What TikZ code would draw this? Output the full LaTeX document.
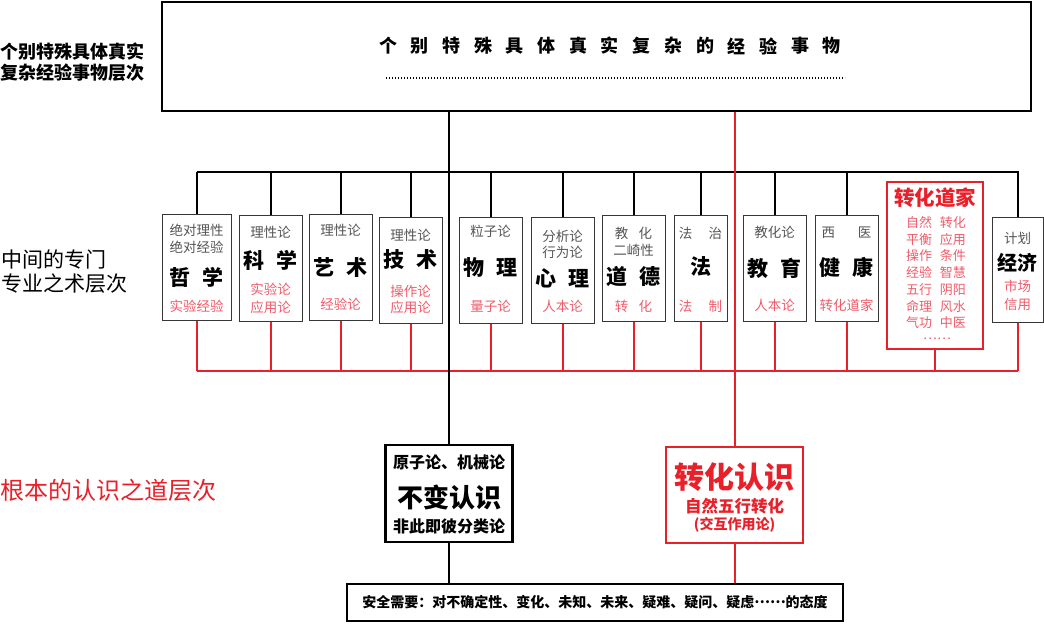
\documentclass[tikz,border=0pt]{standalone}
\usepackage{fontspec}
\setmainfont{Noto Sans CJK SC}
\usepackage{xcolor}
\definecolor{lred}{RGB}{232,32,42}
\definecolor{pinkt}{RGB}{238,92,106}
\definecolor{tgray}{RGB}{85,85,85}
\definecolor{bgray}{RGB}{55,55,55}
\newcommand*{\Gap}{\hspace{0.55em}}

\begin{document}
\begin{tikzpicture}[x=1pt, y=-1pt,
    box/.style={draw=bgray, line width=1pt, inner sep=0pt},
    heavybox/.style={draw, line width=2.8pt, inner sep=0pt},
    blk/.style={line width=2pt},
    rl/.style={draw=lred, line width=2pt},
    sm/.style={font=\fontsize{13.5}{14}\selectfont, text=tgray, inner sep=0pt},
    big/.style={font=\fontsize{21}{22}\selectfont\bfseries, inner sep=0pt},
    lo/.style={font=\fontsize{13.5}{14}\selectfont, text=pinkt, inner sep=0pt}]
    \useasboundingbox (0,0) rectangle (1044,641);

    % levels
    \node[anchor=west, align=left, inner sep=0pt, font=\fontsize{18}{21}\selectfont\bfseries] (lv1) at (0,62.5) {个别特殊具体真实\\复杂经验事物层次};
    \node[anchor=west, align=left, inner sep=0pt, font=\fontsize{21}{24}\selectfont] (lv2) at (1,272) {中间的专门\\专业之术层次};
    \node[anchor=west, inner sep=0pt, font=\fontsize{24}{24}\selectfont, text=lred] (lv3) at (0,490) {根本的认识之道层次};

    % top
    \node[draw, line width=1.6pt, minimum width=869pt, minimum height=109pt] (top) at (596.5,56.5) {};
    \foreach \c [count=\i from 0] in {个,别,特,殊,具,体,真,实,复,杂,的,经,验,事,物}
        \node[inner sep=0pt, font=\fontsize{18}{18}\selectfont\bfseries] (t\i) at ({388+31.7*\i},46) {\c};
    \draw[line width=1.3pt, dash pattern=on 1.2pt off 1.8pt] (386,78) -- (845,78);

    % middle boxes
    \node[box, minimum width=69pt, minimum height=106pt] (zx) at (196.5,267) {};
    \node[sm] (zx1) at (196.5,230) {绝对理性};
    \node[sm] (zx2) at (196.5,247) {绝对经验};
    \node[big] (zx3) at (196.5,277) {哲\Gap{}学};
    \node[lo] (zx4) at (196.5,306) {实验经验};

    \node[box, minimum width=63pt, minimum height=106pt] (kx) at (270.5,268) {};
    \node[sm] (kx1) at (270.5,232) {理性论};
    \node[big] (kx2) at (270.5,260) {科\Gap{}学};
    \node[lo] (kx3) at (270.5,289) {实验论};
    \node[lo] (kx4) at (270.5,307) {应用论};

    \node[box, minimum width=63pt, minimum height=106pt] (ys) at (340.5,267) {};
    \node[sm] (ys1) at (340.5,230) {理性论};
    \node[big] (ys2) at (340.5,268) {艺\Gap{}术};
    \node[lo] (ys3) at (340.5,304) {经验论};

    \node[box, minimum width=63pt, minimum height=106pt] (js) at (410.5,270) {};
    \node[sm] (js1) at (410.5,235) {理性论};
    \node[big] (js2) at (410.5,260) {技\Gap{}术};
    \node[lo] (js3) at (410.5,291) {操作论};
    \node[lo] (js4) at (410.5,307) {应用论};

    \node[box, minimum width=63pt, minimum height=106pt] (wl) at (490.5,270) {};
    \node[sm] (wl1) at (490.5,231) {粒子论};
    \node[big] (wl2) at (490.5,268) {物\Gap{}理};
    \node[lo] (wl3) at (490.5,306) {量子论};

    \node[box, minimum width=63pt, minimum height=106pt] (xl) at (562.5,270) {};
    \node[sm] (xl1) at (562.5,236) {分析论};
    \node[sm] (xl2) at (562.5,252) {行为论};
    \node[big] (xl3) at (562.5,278) {心\Gap{}理};
    \node[lo] (xl4) at (562.5,306) {人本论};

    \node[box, minimum width=63pt, minimum height=106pt] (dd) at (633.5,268) {};
    \node[sm] (dd1) at (633.5,233) {教\hspace{0.75em}化};
    \node[sm] (dd2) at (633.5,250) {二崎性};
    \node[big] (dd3) at (633.5,277) {道\Gap{}德};
    \node[lo] (dd4) at (633.5,306) {转\hspace{0.75em}化};

    \node[box, minimum width=53pt, minimum height=106pt] (fa) at (700.5,268) {};
    \node[sm] (fa1) at (700.5,233) {法\hspace{1.2em}治};
    \node[big] (fa2) at (700.5,267) {法};
    \node[lo] (fa3) at (700.5,306) {法\hspace{1.2em}制};

    \node[box, minimum width=63pt, minimum height=106pt] (jy) at (774.5,268) {};
    \node[sm] (jy1) at (774.5,232) {教化论};
    \node[big] (jy2) at (774.5,268) {教\Gap{}育};
    \node[lo] (jy3) at (774.5,305) {人本论};

    \node[box, minimum width=63pt, minimum height=106pt] (jk) at (846.5,268) {};
    \node[sm] (jk1) at (846.5,233) {西\hspace{1.7em}医};
    \node[big] (jk2) at (846.5,267) {健\Gap{}康};
    \node[lo] (jk3) at (846.5,305) {转化道家};

    \node[draw=lred, line width=2.2pt, minimum width=96pt, minimum height=167pt] (zd) at (935,265.5) {};
    \node[inner sep=0pt, text=lred, font=\fontsize{20.5}{21}\selectfont\bfseries] (zd0) at (935,198) {转化道家};
    \foreach \a/\b [count=\i] in {自然/转化,平衡/应用,操作/条件,经验/智慧,五行/阴阳,命理/风水,气功/中医}
        \node[lo, font=\fontsize{13}{13}\selectfont] (zd\i) at (936,{206+16.67*\i}) {\a\hspace{0.6em}\b};
    \node[lo, font=\fontsize{13}{13}\selectfont] (zd8) at (937,339) {……};

    \node[box, minimum width=51pt, minimum height=105pt] (jj) at (1017.5,269.5) {};
    \node[sm] (jj1) at (1017.5,238) {计划};
    \node[big, font=\fontsize{20}{20}\selectfont\bfseries] (jj2) at (1017.5,263) {经济};
    \node[lo] (jj3) at (1017.5,286) {市场};
    \node[lo] (jj4) at (1017.5,304) {信用};

    % bottom
    \node[heavybox, minimum width=127pt, minimum height=97pt] (nb) at (449,493.5) {};
    \node[inner sep=0pt, font=\fontsize{16}{16}\selectfont\bfseries] (nb1) at (449,462) {原子论、机械论};
    \node[inner sep=0pt, font=\fontsize{26}{26}\selectfont\bfseries] (nb2) at (449,497) {不变认识};
    \node[inner sep=0pt, font=\fontsize{16}{16}\selectfont\bfseries] (nb3) at (449,526) {非此即彼分类论};

    \node[heavybox, draw=lred, minimum width=137pt, minimum height=96pt] (zr) at (734.5,495) {};
    \node[inner sep=0pt, text=lred, font=\fontsize{30}{30}\selectfont\bfseries] (zr1) at (734.5,477) {转化认识};
    \node[inner sep=0pt, text=lred, font=\fontsize{16.5}{17}\selectfont\bfseries] (zr2) at (734.5,506) {自然五行转化};
    \node[inner sep=0pt, text=lred, font=\fontsize{14}{14}\selectfont\bfseries] (zr3) at (734.5,525) {(交互作用论)};

    \node[heavybox, minimum width=496pt, minimum height=37pt, font=\fontsize{14}{14}\selectfont\bfseries] (safe) at (595,602.5) {安全需要：对不确定性、变化、未知、未来、疑难、疑问、疑虑\raisebox{0.32em}{……}的态度};

    % lines
    \coordinate (tl) at (196.5,172);
    \coordinate (tr) at (1017.5,172);
    \coordinate (rbl) at (196.5,371);
    \coordinate (rbr) at (1017.5,371);
    \draw[blk] (tl) -- (tr) -- (jj.north);
    \foreach \n in {zx,kx,ys,js,wl,xl,dd,fa,jy,jk}
        \draw[blk] (\n.north) -- (\n.north |- tl);
    \draw[rl] (rbl) -- (rbr);
    \foreach \n in {zx,kx,ys,js,wl,xl,dd,fa,jy,jk,zd,jj}
        \draw[rl] (\n.south) -- (\n.south |- rbl);
    \draw[blk] (top.south -| nb.north) -- (nb.north);
    \draw[blk] (nb.south) -- (nb.south |- safe.north);
    \draw[rl] (top.south -| zr.north) -- (zr.north);
    \draw[rl] (zr.south) -- (zr.south |- safe.north);
\end{tikzpicture}
\end{document}
